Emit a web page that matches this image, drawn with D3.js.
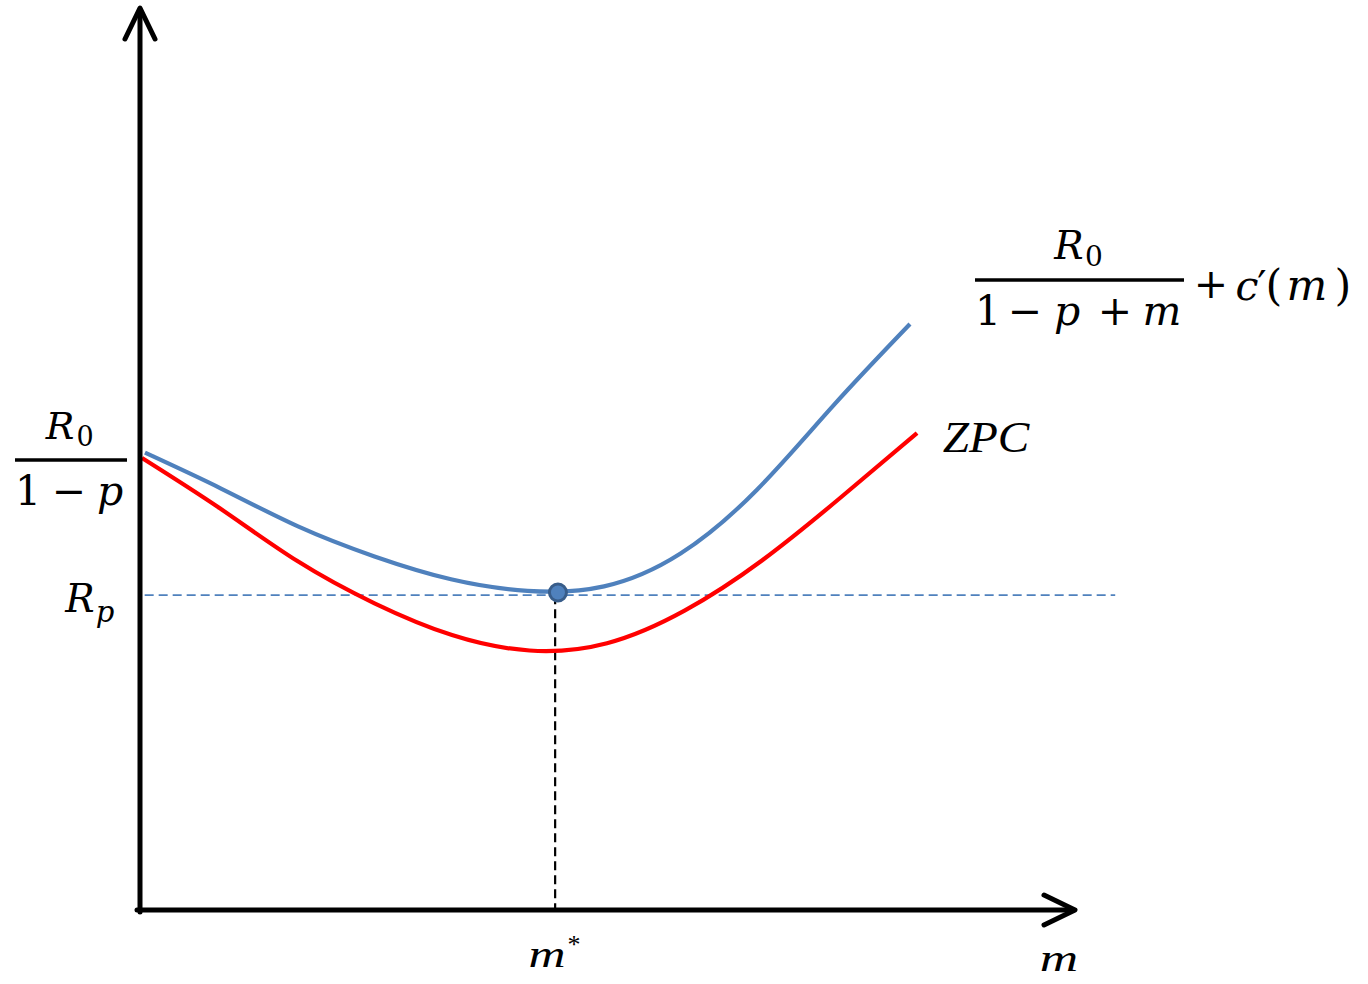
<!DOCTYPE html>
<html><head><meta charset="utf-8">
<script src="https://cdn.jsdelivr.net/npm/d3@7"></script>
<style>body{margin:0;background:#fff}svg{display:block}</style>
</head><body><svg id="c" width="1368" height="984"></svg>
<script>
// ---- data (arbitrary units, m on x, value on y), evenly spaced in m ----
const blueM = [0.53, 8.72, 16.90, 25.08, 33.26, 41.44, 49.63, 57.81, 65.99, 74.17, 82.35];
const blueV = [50.70, 46.70, 42.53, 39.20, 36.67, 35.39, 35.88, 39.52, 46.60, 55.95, 64.97];
const redM  = [0.21, 8.50, 16.79, 25.08, 33.37, 41.66, 49.95, 58.24, 66.52, 74.81, 83.10];
const redV  = [50.11, 44.56, 38.71, 34.00, 30.48, 28.77, 29.58, 33.19, 38.75, 45.62, 52.88];
const rpValue = 34.9;
const rpLineStart = 0.5, rpLineEnd = 104.3;
const mStar = 44.4;
const optimum = {m: 44.7, v: 35.2};
const axisMax = {m: 100, v: 100};

const svg = d3.select("#c");
const x = d3.scaleLinear().domain([0, axisMax.m]).range([140, 1075]);
const y = d3.scaleLinear().domain([0, axisMax.v]).range([910, 8]);

const line = d3.line().x(d => x(d[0])).y(d => y(d[1])).curve(d3.curveNatural);

// dashed guides
svg.append("line").attr("x1", x(rpLineStart)).attr("x2", x(rpLineEnd))
  .attr("y1", y(rpValue)).attr("y2", y(rpValue))
  .attr("stroke", "#4f81bd").attr("stroke-width", 1.8).attr("stroke-dasharray", "9,5");
svg.append("line").attr("x1", x(mStar)).attr("x2", x(mStar))
  .attr("y1", y(rpValue)).attr("y2", y(0))
  .attr("stroke", "#000").attr("stroke-width", 2.2).attr("stroke-dasharray", "9,5");

// curves
svg.append("path").datum(redM.map((m, i) => [m, redV[i]])).attr("d", line)
  .attr("fill", "none").attr("stroke", "#ff0000").attr("stroke-width", 4.2);
svg.append("path").datum(blueM.map((m, i) => [m, blueV[i]])).attr("d", line)
  .attr("fill", "none").attr("stroke", "#4f81bd").attr("stroke-width", 4.2);

// optimum dot
svg.append("circle").attr("cx", x(optimum.m)).attr("cy", y(optimum.v)).attr("r", 8.5)
  .attr("fill", "#4f81bd").attr("stroke", "#385d8a").attr("stroke-width", 3);

// axes
const ax = svg.append("g").attr("stroke", "#000").attr("stroke-width", 5).attr("fill", "none")
  .attr("stroke-linecap", "round").attr("stroke-linejoin", "round");
ax.append("line").attr("x1", x(0)).attr("y1", y(0) + 2).attr("x2", x(0)).attr("y2", y(axisMax.v) + 2);
ax.append("line").attr("x1", x(0) - 3).attr("y1", y(0)).attr("x2", x(axisMax.m) - 2).attr("y2", y(0));
ax.append("path").attr("d", `M${x(0)-15},${y(axisMax.v)+31}L${x(0)},${y(axisMax.v)}L${x(0)+15},${y(axisMax.v)+31}`);
ax.append("path").attr("d", `M${x(axisMax.m)-31},${y(0)-15}L${x(axisMax.m)},${y(0)}L${x(axisMax.m)-31},${y(0)+15}`);

// math text helper (centered pieces)
const MATH = "'DejaVu Serif',serif";
const TIMES = "'Liberation Serif','Times New Roman',serif";
function piece(t, cx, by, size, italic, fam, sx) {
  svg.append("text").attr("transform", `translate(${cx},${by}) scale(${sx || 1},1)`)
    .attr("text-anchor", "middle").attr("font-family", fam || MATH)
    .attr("font-size", size).attr("font-style", italic ? "italic" : "normal")
    .attr("fill", "#000").text(t);
}
function bar(x1, x2, yy) {
  svg.append("line").attr("x1", x1).attr("x2", x2).attr("y1", yy).attr("y2", yy)
    .attr("stroke", "#000").attr("stroke-width", 3.5);
}

// top-right label: R0/(1-p+m) + c'(m)
piece("R", 1069, 259, 39, true);
piece("0", 1094, 266, 28, false);
bar(975, 1184, 280);
piece("1", 988, 325, 41, false);
piece("\u2212", 1025, 325, 41, false);
piece("p", 1067, 325, 41, true);
piece("+", 1115, 325, 41, false);
piece("m", 1162, 325, 41, true);
piece("+", 1211, 298, 41, false);
piece("c", 1247, 300, 41, true);
piece("\u2032", 1262, 300, 41, false);
piece("(", 1274, 300, 43, false);
piece("m", 1307, 300, 43, true);
piece(")", 1343, 300, 43, false);

// left intercept label: R0/(1-p)
piece("R", 60, 439, 38, true);
piece("0", 85, 446, 27, false);
bar(15, 127, 460);
piece("1", 28, 505, 41, false);
piece("\u2212", 69, 505, 41, false);
piece("p", 110, 505, 41, true);

// Rp
piece("R", 80, 612, 39, true);
piece("p", 105, 622, 29, true);

// ZPC
piece("ZPC", 986, 452, 45, true, TIMES, 1.05);

// m* and m
piece("m", 547, 967, 38, true, TIMES, 1.35);
piece("*", 574, 953, 26, false, TIMES);
piece("m", 1059, 971, 38, true, TIMES, 1.4);
</script></body></html>
